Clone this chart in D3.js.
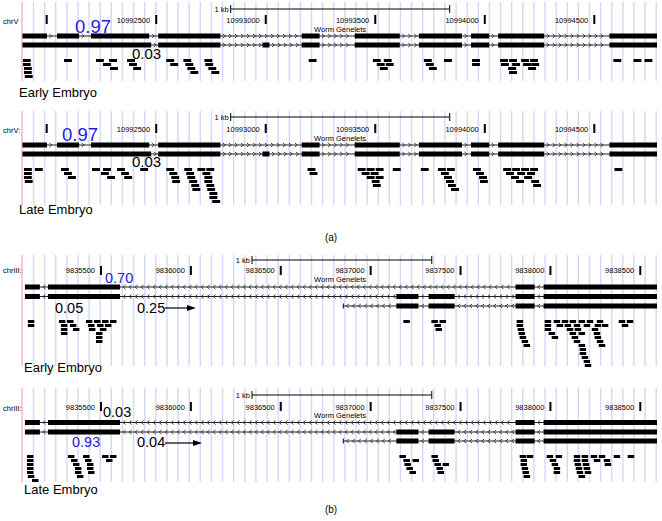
<!DOCTYPE html>
<html><head><meta charset="utf-8">
<script src="https://cdn.jsdelivr.net/npm/d3@7"></script>
<style>body{margin:0;background:#fff}svg{display:block}text{font-family:"Liberation Sans",Arial,Helvetica,sans-serif}</style>
</head><body><svg id="c" width="662" height="521"></svg>
<script>
// ---------- DATA ----------
const aTicks = [10992000, 10992500, 10993000, 10993500, 10994000, 10994500];
const aTickLabels = ["", "10992500", "10993000", "10993500", "10994000", "10994500"];
const bTicks = [9835500, 9836000, 9836500, 9837000, 9837500, 9838000, 9838500];
const bTickLabels = ["9835500", "9836000", "9836500", "9837000", "9837500", "9838000", "9838500"];
const aScaleBar = [10992840, 10993840];
const bScaleBar = [9836340, 9837340];
const readLength = 36;

// transcripts: exon [start,end] lists
const aTx1 = [[10991887,10992001],[10992047,10992148],[10992202,10992468],[10992509,10992793],[10993164,10993246],[10993406,10993612],[10993699,10993896],[10993937,10994020],[10994061,10994271],[10994569,10994788]];
const aTx2 = [[10991887,10992477],[10992509,10992793],[10992985,10993017],[10993164,10993246],[10993406,10993612],[10993699,10993896],[10993937,10994020],[10994061,10994271],[10994569,10994788]];
const bTx1 = [[9835077,9835160],[9835205,9835606],[9837806,9837912],[9837962,9838597]];
const bTx2 = [[9835077,9835160],[9835205,9835606],[9837143,9837266],[9837322,9837467],[9837806,9837912],[9837962,9838597]];
const bTx3 = [[9837143,9837266],[9837322,9837467],[9837806,9837912],[9837962,9838597]];
const bTx3Start = 9836848;

// reads: [start bp, stack row]
const aEarlyReads = [
 [10991891,0],[10991891,1],[10991896,2],[10991896,3],[10991900,4],
 [10992079,0],
 [10992225,0],[10992285,0],[10992257,1],[10992289,2],
 [10992367,0],[10992376,1],[10992395,2],
 [10992546,0],[10992564,1],
 [10992624,0],[10992633,1],[10992642,2],[10992656,3],
 [10992720,0],[10992724,1],[10992738,2],[10992752,3],
 [10993196,0],
 [10993489,0],[10993539,0],[10993507,1],[10993548,1],[10993521,2],
 [10993722,0],[10993731,1],[10993745,2],[10993814,0],
 [10993942,0],[10993942,1],
 [10994070,0],[10994111,0],[10994166,0],[10994207,0],
 [10994074,1],[10994125,1],[10994175,1],[10994212,1],
 [10994107,2],[10994198,2],[10994111,3],
 [10994587,0],[10994679,0],[10994729,0]
];
const aLateReads = [
 [10991896,0],[10991946,0],[10991896,1],[10991896,2],[10991900,3],
 [10992065,0],[10992079,1],[10992097,2],
 [10992207,0],[10992257,0],[10992248,1],[10992276,2],
 [10992321,0],[10992340,1],[10992354,2],
 [10992427,0],
 [10992546,0],[10992560,1],[10992569,2],[10992573,3],
 [10992628,0],[10992637,1],[10992642,2],[10992651,3],[10992660,4],[10992665,5],
 [10992688,0],[10992729,0],[10992711,1],[10992720,2],[10992720,3],[10992729,4],[10992733,5],[10992743,6],[10992743,7],[10992756,8],
 [10993191,0],[10993200,1],
 [10993420,0],[10993461,0],[10993502,0],[10993438,1],[10993479,1],[10993461,2],[10993502,2],[10993484,3],[10993489,4],
 [10993580,0],
 [10993708,0],
 [10993786,0],[10993827,0],[10993800,1],[10993814,2],[10993823,3],[10993832,4],[10993846,5],
 [10993946,0],[10993960,1],[10993974,2],[10993978,3],
 [10994084,0],[10994125,0],[10994166,0],[10994207,0],
 [10994097,1],[10994148,1],[10994193,1],
 [10994120,2],[10994180,2],[10994143,3],[10994212,3],[10994221,4],
 [10994592,0]
];
const bEarlyReads = [
 [9835093,0],[9835093,1],
 [9835266,0],[9835311,0],[9835277,1],[9835327,1],[9835277,2],[9835344,2],[9835277,3],
 [9835416,0],[9835461,0],[9835506,0],[9835550,0],[9835428,1],[9835478,1],[9835522,1],
 [9835433,2],[9835494,2],[9835472,3],[9835472,4],[9835472,5],
 [9837182,0],
 [9837338,0],[9837383,0],[9837355,1],[9837361,2],
 [9837812,0],[9837812,1],[9837818,2],[9837823,3],[9837829,4],[9837840,5],[9837851,6],
 [9837968,0],[9838018,0],[9838063,0],[9838107,0],[9838157,0],[9838202,0],[9838258,0],
 [9837968,1],[9838035,1],[9838079,1],[9838130,1],[9838185,1],[9838246,1],[9838286,1],
 [9837968,2],[9838091,2],[9838135,2],[9838230,2],
 [9837990,3],[9838107,3],[9838157,3],[9838241,3],
 [9838007,4],[9838118,4],[9838246,4],
 [9838130,5],[9838258,5],[9838157,6],[9838269,6],
 [9838163,7],[9838163,8],[9838174,9],[9838185,10],[9838191,11],
 [9838380,0],[9838425,0],[9838397,1]
];
const bLateReads = [
 [9835088,0],[9835088,1],[9835088,2],[9835088,3],[9835088,4],[9835093,5],[9835116,6],
 [9835316,0],[9835333,1],[9835344,2],[9835355,3],[9835355,4],[9835366,5],
 [9835400,0],[9835411,1],[9835422,2],[9835422,3],[9835428,4],
 [9835506,0],[9835550,0],[9835528,1],
 [9837160,0],[9837182,1],[9837233,1],[9837188,2],[9837199,3],[9837216,4],
 [9837338,0],[9837344,1],[9837355,2],[9837400,2],[9837366,3],[9837372,4],
 [9837829,0],[9837868,0],[9837834,1],[9837834,2],[9837840,3],[9837845,4],[9837851,5],
 [9837979,0],[9838029,0],[9837996,1],[9838007,2],[9838018,3],[9838018,4],
 [9838130,0],[9838174,0],[9838224,0],[9838269,0],[9838352,0],[9838430,0],
 [9838130,1],[9838174,1],[9838241,1],[9838297,1],
 [9838135,2],[9838180,2],[9838302,2],
 [9838141,3],[9838185,3],[9838146,4],[9838191,4],[9838157,5]
];

// fraction annotations
const aEarlyFractions = ["0.97", "0.03"];
const aLateFractions = ["0.97", "0.03"];
const bEarlyFractions = ["0.70", "0.05", "0.25"];
const bLateFractions = ["0.03", "0.93", "0.04"];
const panelLabels = ["Early Embryo", "Late Embryo", "Early Embryo", "Late Embryo"];
const captions = ["(a)", "(b)"];

// ---------- LAYOUT ----------
const svg = d3.select("#c");
const BLUE = "#2222dd";
const xa = d3.scaleLinear().domain([10992000, 10994500]).range([46.7, 594.3]);
const xb = d3.scaleLinear().domain([9835500, 9838500]).range([101, 640.3]);
const clipL = 22.5, clipR = 657;

svg.append("defs").append("clipPath").attr("id","clipTrack")
  .append("rect").attr("x",clipL).attr("y",0).attr("width",clipR-clipL).attr("height",521);

const panels = [
 {x:xa, ticks:aTicks, labels:aTickLabels, bar:aScaleBar, chr:"chrV", tx:[aTx1,aTx2], txStart:[null,null], dir:1, reads:aEarlyReads,
  barY:9, chrY:24, tickLabelY:23, tickTop:15, wormY:32, rowY:[36,45], readTop:59, gridTop:2, gridBottom:81, label:panelLabels[0], labelX:19, labelY:97,
  notes:[{t:aEarlyFractions[0],x:75,y:33,s:18.5,c:BLUE},{t:aEarlyFractions[1],x:132,y:59,s:15,c:"#000"}], arrows:[]},
 {x:xa, ticks:aTicks, labels:aTickLabels, bar:aScaleBar, chr:"chrV:", tx:[aTx1,aTx2], txStart:[null,null], dir:1, reads:aLateReads,
  barY:117, chrY:133, tickLabelY:132, tickTop:124, wormY:141, rowY:[145,154], readTop:168, gridTop:111, gridBottom:205, label:panelLabels[1], labelX:19, labelY:214,
  notes:[{t:aLateFractions[0],x:62,y:141,s:18.5,c:BLUE},{t:aLateFractions[1],x:132,y:167,s:15,c:"#000"}], arrows:[]},
 {x:xb, ticks:bTicks, labels:bTickLabels, bar:bScaleBar, chr:"chrIII:", tx:[bTx1,bTx2,bTx3], txStart:[null,null,bTx3Start], dir:-1, reads:bEarlyReads,
  barY:260, chrY:273, tickLabelY:273, tickTop:266, wormY:282, rowY:[287,296.5,306], readTop:320, gridTop:255, gridBottom:366, label:panelLabels[2], labelX:24, labelY:372,
  notes:[{t:bEarlyFractions[0],x:105,y:283,s:14.5,c:BLUE},{t:bEarlyFractions[1],x:55,y:313,s:14.5,c:"#000"},{t:bEarlyFractions[2],x:137,y:313,s:14.5,c:"#000"}],
  arrows:[{x1:165,x2:196,y:308}]},
 {x:xb, ticks:bTicks, labels:bTickLabels, bar:bScaleBar, chr:"chrIII:", tx:[bTx1,bTx2,bTx3], txStart:[null,null,bTx3Start], dir:-1, reads:bLateReads,
  barY:395, chrY:411, tickLabelY:410, tickTop:402, wormY:418, rowY:[422.5,432,441], readTop:455, gridTop:388, gridBottom:482, label:panelLabels[3], labelX:24, labelY:494,
  notes:[{t:bLateFractions[0],x:103,y:417,s:14.5,c:"#000"},{t:bLateFractions[1],x:72,y:447,s:14.5,c:BLUE},{t:bLateFractions[2],x:137,y:447,s:14.5,c:"#000"}],
  arrows:[{x1:165,x2:202,y:443}]}
];

panels.forEach(p => {
  const g = svg.append("g");
  const x = p.x;
  // grid lines
  g.selectAll("line.grid").data(d3.range(33.5, 658, 11.12)).join("line")
    .attr("x1",d=>d).attr("x2",d=>d).attr("y1",p.gridTop).attr("y2",p.gridBottom)
    .attr("stroke","#d6d6f6").attr("stroke-width",1.4);
  g.append("line").attr("x1",22).attr("x2",22).attr("y1",p.gridTop).attr("y2",p.gridBottom)
    .attr("stroke","#f2bcbc").attr("stroke-width",1.5);

  // scale bar
  const b0 = x(p.bar[0]), b1 = x(p.bar[1]);
  g.append("line").attr("x1",b0).attr("x2",b1).attr("y1",p.barY).attr("y2",p.barY).attr("stroke","#000").attr("stroke-width",1);
  [b0,b1].forEach(v=>g.append("line").attr("x1",v).attr("x2",v).attr("y1",p.barY-4).attr("y2",p.barY+4).attr("stroke","#000").attr("stroke-width",1));
  g.append("text").attr("x",b0-2).attr("y",p.barY+3).attr("text-anchor","end").attr("font-size",7.5).text("1 kb");

  // chromosome label
  g.append("text").attr("x",3).attr("y",p.chrY).attr("font-size",7.5).text(p.chr);

  // ticks
  p.ticks.forEach((t,i)=>{
    const tx = x(t);
    g.append("rect").attr("x",tx-1).attr("y",p.tickTop).attr("width",2).attr("height",9).attr("fill","#000");
    if (p.labels[i]) g.append("text").attr("x",tx-6).attr("y",p.tickLabelY).attr("text-anchor","end").attr("font-size",7.5).text(p.labels[i]);
  });

  g.append("text").attr("x",340).attr("y",p.wormY).attr("text-anchor","middle").attr("font-size",7.5).text("Worm Genelets");

  // transcripts
  const tg = g.append("g").attr("clip-path","url(#clipTrack)");
  p.tx.forEach((exons,ri)=>{
    const y = p.rowY[ri];
    const start = p.txStart[ri] != null ? p.txStart[ri] : exons[0][0];
    const end = exons[exons.length-1][1];
    tg.append("line").attr("x1",x(start)).attr("x2",x(end)).attr("y1",y).attr("y2",y).attr("stroke","#222").attr("stroke-width",1);
    // introns chevrons
    const gaps = [];
    if (p.txStart[ri] != null) gaps.push([p.txStart[ri], exons[0][0]]);
    for (let k=1;k<exons.length;k++) gaps.push([exons[k-1][1], exons[k][0]]);
    gaps.forEach(([s,e])=>{
      const xs = x(s), xe = x(e);
      for (let cx = xs+4; cx < xe-2; cx += 6) {
        const d = p.dir;
        tg.append("path").attr("d",`M${cx-1.5*d},${y-2} L${cx+1*d},${y} L${cx-1.5*d},${y+2}`)
          .attr("fill","none").attr("stroke","#333").attr("stroke-width",0.9);
      }
    });
    if (p.txStart[ri] != null) {
      tg.append("line").attr("x1",x(start)).attr("x2",x(start)).attr("y1",y-2.5).attr("y2",y+2.5).attr("stroke","#000").attr("stroke-width",1);
    }
    tg.selectAll(null).data(exons).join("rect")
      .attr("x",d=>x(d[0])).attr("width",d=>x(d[1])-x(d[0]))
      .attr("y",y-2.5).attr("height",5).attr("fill","#000");
  });

  // reads
  tg.selectAll(null).data(p.reads).join("rect")
    .attr("x",d=>x(d[0])).attr("width",d=>x(d[0]+readLength)-x(d[0]))
    .attr("y",d=>p.readTop + d[1]*4).attr("height",3).attr("fill","#000");

  // annotations
  p.notes.forEach(n=>{
    g.append("text").attr("x",n.x).attr("y",n.y).attr("font-size",n.s).attr("fill",n.c).text(n.t);
  });
  p.arrows.forEach(a=>{
    g.append("line").attr("x1",a.x1).attr("x2",a.x2-8).attr("y1",a.y).attr("y2",a.y).attr("stroke","#000").attr("stroke-width",1.2);
    g.append("path").attr("d",`M${a.x2-9},${a.y-3} L${a.x2},${a.y} L${a.x2-9},${a.y+3} Z`).attr("fill","#000");
  });

  g.append("text").attr("x",p.labelX).attr("y",p.labelY).attr("font-size",13).text(p.label);
});

svg.append("text").attr("x",331).attr("y",241).attr("text-anchor","middle")
  .attr("font-family","'DejaVu Serif','Liberation Serif',serif").attr("font-size",10).text(captions[0]);
svg.append("text").attr("x",331).attr("y",513).attr("text-anchor","middle")
  .attr("font-family","'DejaVu Serif','Liberation Serif',serif").attr("font-size",10).text(captions[1]);
</script></body></html>
